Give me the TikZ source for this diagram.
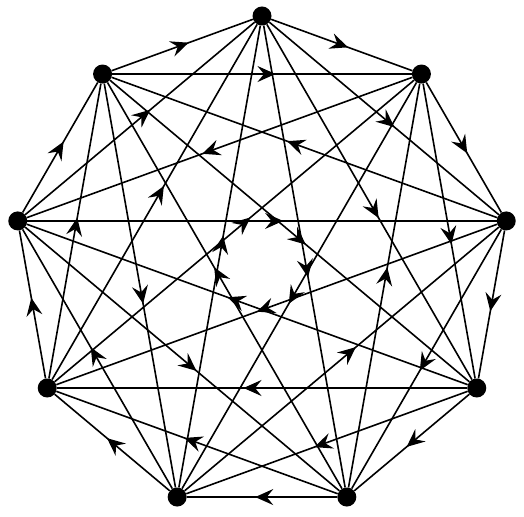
\documentclass[tikz,border=0pt]{standalone}
\usetikzlibrary{arrows.meta,decorations.markings}
\begin{document}
\begin{tikzpicture}[x=1pt,y=1pt,
  dot/.style={circle,fill=black,inner sep=0pt,minimum size=19pt},
  edge/.style={line width=1.6pt,postaction={decorate},
    decoration={markings,mark=at position 0.545 with {\arrow{Stealth[length=18pt,width=16pt,inset=6.5pt]}}}}]
\useasboundingbox (-262,-252) rectangle (262,264);
\foreach \i in {0,...,8}{
  \node[dot] (v\i) at ({90-40*\i}:248) {};
}
\foreach \i in {0,...,8}{
  \foreach \s in {1,2,4}{
    \pgfmathtruncatemacro\j{mod(\i+\s,9)}
    \draw[edge] (v\i) -- (v\j);
  }
}
\foreach \a/\b in {0/3,3/6,6/0,4/1,1/7,7/4,5/2,2/8,8/5}{
  \draw[edge] (v\a) -- (v\b);
}
\end{tikzpicture}
\end{document}
